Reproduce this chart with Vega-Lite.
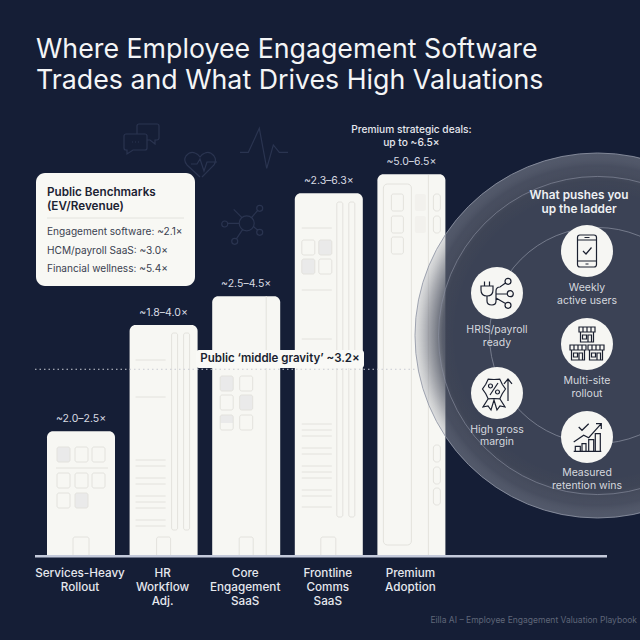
{
"$schema":"https://vega.github.io/schema/vega-lite/v6.json",
"width":640,"height":640,"padding":0,"autosize":{"type":"none"},
"background":"#151e36",
"config":{"view":{"stroke":null},"axis":{"disable":true},"legend":{"disable":true},"font":"Inter"},
"resolve":{"scale":{"shape":"independent"}},
"datasets":{
"bars":[
{"segment":"Services-Heavy Rollout","slot":1,"low":2.0,"high":2.5,"level":2.15,"range":"~2.0–2.5×","label":"Services-Heavy\nRollout"},
{"segment":"HR Workflow Adj.","slot":2,"low":1.8,"high":4.0,"level":4.0,"range":"~1.8–4.0×","label":"HR\nWorkflow\nAdj."},
{"segment":"Core Engagement SaaS","slot":3,"low":2.5,"high":4.5,"level":4.5,"range":"~2.5–4.5×","label":"Core\nEngagement\nSaaS"},
{"segment":"Frontline Comms SaaS","slot":4,"low":2.3,"high":6.3,"level":6.29,"range":"~2.3–6.3×","label":"Frontline\nComms\nSaaS"},
{"segment":"Premium Adoption","slot":5,"low":5.0,"high":6.5,"level":6.62,"range":"~5.0–6.5×","label":"Premium\nAdoption"}
],
"drivers":[
{"driver":"Weekly\nactive users","icon":"phone","x":7.1259,"y":5.287,"labelY":4.643},
{"driver":"HRIS/payroll\nready","icon":"plug","x":6.0363,"y":4.5565,"labelY":3.905},
{"driver":"Multi-site\nrollout","icon":"stores","x":7.1259,"y":3.6696,"labelY":3.026},
{"driver":"High gross\nmargin","icon":"badge","x":6.0363,"y":2.8174,"labelY":2.174},
{"driver":"Measured\nretention wins","icon":"chart","x":7.1259,"y":2.0522,"labelY":1.426}
],
"rings":[{"ring":"outer","x":7.253,"y":3.8175}]
},
"layer":[
{"data":{"values":[
{"icon":"chat","x":1.7386,"y":7.2349},
{"icon":"heart","x":2.4407,"y":6.7827},
{"icon":"pulse","x":3.2157,"y":7.0784},
{"icon":"network","x":3.0062,"y":5.7684}]},
"mark":{"type":"point","filled":false,"size":4,"opacity":1,"stroke":"#2a3450","strokeWidth":1.2},
"encoding":{
"x":{"field":"x","type":"quantitative","scale":{"domain":[0.01937,7.76755],"nice":false,"zero":false,"padding":0}},
"y":{"field":"y","type":"quantitative","scale":{"domain":[-1.47826,9.65217],"nice":false,"zero":false,"padding":0}},
"shape":{"field":"icon","type":"nominal","scale":{"domain":["chat","heart","pulse","network"],"range":[
"M-15 -5H3a2 2 0 0 1 2 2V9a2 2 0 0 1 -2 2H-9L-15 15V11H-16a2 2 0 0 1 -2 -2V-3a2 2 0 0 1 2 -2ZM-5 -5V-13a2 2 0 0 1 2 -2H15a2 2 0 0 1 2 2V-1a2 2 0 0 1 -2 2H13V5L8 1H5M-10 3H-9M-7 3H-6M-4 3H-3",
"M0 12L-13 0Q-17 -5 -14 -9Q-10 -14 -5 -12Q-2 -11 0 -8Q2 -11 5 -12Q10 -14 14 -9Q17 -5 14 0L2 12M-9 -1H-3L0 -6L4 6L7 -3H17",
"M-24 4.3H-15.7L-12.3 -3L-4.7 -19.7L2.7 20.3L9.3 -3L15.3 4.3H24",
"M7.5 0a7.5 7.5 0 1 1 -15 0a7.5 7.5 0 1 1 15 0ZM5 -6L11 -13M-7.5 0H-19M-4 6L-10 15M6.5 3L11 7M-5 -6L-13 -14M16 -15a3 3 0 1 1 -6 0a3 3 0 1 1 6 0ZM-19 0.7a3 3 0 1 1 -6 0a3 3 0 1 1 6 0ZM-9 18a3 3 0 1 1 -6 0a3 3 0 1 1 6 0ZM16 9a3 3 0 1 1 -6 0a3 3 0 1 1 6 0Z"
]}}}},
{"data":{"name":"bars"},
"mark":{"type":"bar","orient":"vertical","size":68,"fill":"#f7f7f3","cornerRadiusTopLeft":6,"cornerRadiusTopRight":6},
"encoding":{"x":{"field":"slot","type":"quantitative"},"y":{"field":"level","type":"quantitative"},"y2":{"datum":0}}},
{"data":{"values":[{"segment":"Premium Adoption","slot":5}]},
"mark":{"type":"point","filled":true,"size":4,"opacity":1,"fill":"#f2f1ed","stroke":null,"shape":"M5.5 -361h7a2 2 0 0 1 2 2v13a2 2 0 0 1 -2 2h-7a2 2 0 0 1 -2 -2v-13a2 2 0 0 1 2 -2zM5.5 -339h7a2 2 0 0 1 2 2v13a2 2 0 0 1 -2 2h-7a2 2 0 0 1 -2 -2v-13a2 2 0 0 1 2 -2z"},
"encoding":{"x":{"field":"slot","type":"quantitative"},"y":{"datum":0}}},
{"data":{"name":"bars"},
"mark":{"type":"point","filled":true,"size":4,"opacity":1,"fill":"#eaeaea","stroke":null},
"encoding":{"x":{"field":"slot","type":"quantitative"},"y":{"datum":0},
"shape":{"field":"segment","type":"nominal","scale":{"domain":["Services-Heavy Rollout","HR Workflow Adj.","Core Engagement SaaS","Frontline Comms SaaS","Premium Adoption"],"range":[
"M-22 -108h9a2 2 0 0 1 2 2v11a2 2 0 0 1 -2 2h-9a2 2 0 0 1 -2 -2v-11a2 2 0 0 1 2 -2zM-4 -62h9a2 2 0 0 1 2 2v11a2 2 0 0 1 -2 2h-9a2 2 0 0 1 -2 -2v-11a2 2 0 0 1 2 -2z",
"M0 0",
"M-24 -179h9a2 2 0 0 1 2 2v11a2 2 0 0 1 -2 2h-9a2 2 0 0 1 -2 -2v-11a2 2 0 0 1 2 -2zM-4.5 -160h9a2 2 0 0 1 2 2v11a2 2 0 0 1 -2 2h-9a2 2 0 0 1 -2 -2v-11a2 2 0 0 1 2 -2zM-24 -140h9a2 2 0 0 1 2 2v6h-13v-6a2 2 0 0 1 2 -2z",
"M-8 -315h9a2 2 0 0 1 2 2v11a2 2 0 0 1 -2 2h-9a2 2 0 0 1 -2 -2v-11a2 2 0 0 1 2 -2zM-25 -296h9a2 2 0 0 1 2 2v11a2 2 0 0 1 -2 2h-9a2 2 0 0 1 -2 -2v-11a2 2 0 0 1 2 -2z",
"M0 0"
]}}}},
{"data":{"name":"bars"},
"mark":{"type":"point","filled":false,"size":4,"opacity":1,"stroke":"#e3e2dd","strokeWidth":1},
"encoding":{"x":{"field":"slot","type":"quantitative"},"y":{"datum":0},
"shape":{"field":"label","type":"nominal","scale":{"domain":["Services-Heavy\nRollout","HR\nWorkflow\nAdj.","Core\nEngagement\nSaaS","Frontline\nComms\nSaaS","Premium\nAdoption"],"range":[
"M-22 -108h9a2 2 0 0 1 2 2v11a2 2 0 0 1 -2 2h-9a2 2 0 0 1 -2 -2v-11a2 2 0 0 1 2 -2zM-4 -108h9a2 2 0 0 1 2 2v11a2 2 0 0 1 -2 2h-9a2 2 0 0 1 -2 -2v-11a2 2 0 0 1 2 -2zM13 -108h9a2 2 0 0 1 2 2v11a2 2 0 0 1 -2 2h-9a2 2 0 0 1 -2 -2v-11a2 2 0 0 1 2 -2zM-22 -82h9a2 2 0 0 1 2 2v11a2 2 0 0 1 -2 2h-9a2 2 0 0 1 -2 -2v-11a2 2 0 0 1 2 -2zM-4 -82h9a2 2 0 0 1 2 2v11a2 2 0 0 1 -2 2h-9a2 2 0 0 1 -2 -2v-11a2 2 0 0 1 2 -2zM13 -82h9a2 2 0 0 1 2 2v11a2 2 0 0 1 -2 2h-9a2 2 0 0 1 -2 -2v-11a2 2 0 0 1 2 -2zM-22 -62h9a2 2 0 0 1 2 2v11a2 2 0 0 1 -2 2h-9a2 2 0 0 1 -2 -2v-11a2 2 0 0 1 2 -2zM-4 -62h9a2 2 0 0 1 2 2v11a2 2 0 0 1 -2 2h-9a2 2 0 0 1 -2 -2v-11a2 2 0 0 1 2 -2zM-25 -87H27M-8 0V-16a2 2 0 0 1 2 -2h12a2 2 0 0 1 2 2V0",
"M10 -222h2a2 2 0 0 1 2 2v193a2 2 0 0 1 -2 2h-2a2 2 0 0 1 -2 -2v-193a2 2 0 0 1 2 -2zM22 -222h2a2 2 0 0 1 2 2v193a2 2 0 0 1 -2 2h-2a2 2 0 0 1 -2 -2v-193a2 2 0 0 1 2 -2zM-28 -195H2M-28 -158H2M-28 -95H2M-28 -89H2M-28 -77H2M-28 -71H2M-28 -59H2M-28 -53H2M-28 -47H2M-28 -35H2M-28 -29H2M-7 0V-16a2 2 0 0 1 2 -2h10a2 2 0 0 1 2 2V0",
"M20 -259V0M-24 -179h9a2 2 0 0 1 2 2v11a2 2 0 0 1 -2 2h-9a2 2 0 0 1 -2 -2v-11a2 2 0 0 1 2 -2zM-4.5 -179h9a2 2 0 0 1 2 2v11a2 2 0 0 1 -2 2h-9a2 2 0 0 1 -2 -2v-11a2 2 0 0 1 2 -2zM-24 -160h9a2 2 0 0 1 2 2v11a2 2 0 0 1 -2 2h-9a2 2 0 0 1 -2 -2v-11a2 2 0 0 1 2 -2zM-4.5 -160h9a2 2 0 0 1 2 2v11a2 2 0 0 1 -2 2h-9a2 2 0 0 1 -2 -2v-11a2 2 0 0 1 2 -2zM-24 -140h9a2 2 0 0 1 2 2v11a2 2 0 0 1 -2 2h-9a2 2 0 0 1 -2 -2v-11a2 2 0 0 1 2 -2zM-4.5 -140h9a2 2 0 0 1 2 2v11a2 2 0 0 1 -2 2h-9a2 2 0 0 1 -2 -2v-11a2 2 0 0 1 2 -2zM-7 0V-16a2 2 0 0 1 2 -2h10a2 2 0 0 1 2 2V0",
"M10 -353h2a2 2 0 0 1 2 2v311a2 2 0 0 1 -2 2h-2a2 2 0 0 1 -2 -2v-311a2 2 0 0 1 2 -2zM22 -353h2a2 2 0 0 1 2 2v311a2 2 0 0 1 -2 2h-2a2 2 0 0 1 -2 -2v-311a2 2 0 0 1 2 -2zM-25 -315h9a2 2 0 0 1 2 2v11a2 2 0 0 1 -2 2h-9a2 2 0 0 1 -2 -2v-11a2 2 0 0 1 2 -2zM-8 -315h9a2 2 0 0 1 2 2v11a2 2 0 0 1 -2 2h-9a2 2 0 0 1 -2 -2v-11a2 2 0 0 1 2 -2zM-25 -296h9a2 2 0 0 1 2 2v11a2 2 0 0 1 -2 2h-9a2 2 0 0 1 -2 -2v-11a2 2 0 0 1 2 -2zM-8 -296h9a2 2 0 0 1 2 2v11a2 2 0 0 1 -2 2h-9a2 2 0 0 1 -2 -2v-11a2 2 0 0 1 2 -2zM-27 -327H3M-27 -265H3M-27 -216H3M-27 -131H3M-27 -125H3M-27 -119H3M-27 -107H3M-27 -101H3M-27 -89H3M-27 -83H3M-27 -77H3M-27 -65H3M-27 -59H3M-27 -48H3M-8 0V-16a2 2 0 0 1 2 -2h11a2 2 0 0 1 2 2V0",
"M17 -380V0M-24 -371h20a4 4 0 0 1 4 4v353a4 4 0 0 1 -4 4h-20a4 4 0 0 1 -4 -4v-353a4 4 0 0 1 4 -4zM-18 -361h8a2 2 0 0 1 2 2v13a2 2 0 0 1 -2 2h-8a2 2 0 0 1 -2 -2v-13a2 2 0 0 1 2 -2zM-18 -339h8a2 2 0 0 1 2 2v13a2 2 0 0 1 -2 2h-8a2 2 0 0 1 -2 -2v-13a2 2 0 0 1 2 -2zM-18 -318h8a2 2 0 0 1 2 2v13a2 2 0 0 1 -2 2h-8a2 2 0 0 1 -2 -2v-13a2 2 0 0 1 2 -2zM25 -361h1a3 3 0 0 1 3 3v11a3 3 0 0 1 -3 3h-1a3 3 0 0 1 -3 -3v-11a3 3 0 0 1 3 -3zM25 -339h1a3 3 0 0 1 3 3v11a3 3 0 0 1 -3 3h-1a3 3 0 0 1 -3 -3v-11a3 3 0 0 1 3 -3zM25 -110h1a3 3 0 0 1 3 3v11a3 3 0 0 1 -3 3h-1a3 3 0 0 1 -3 -3v-11a3 3 0 0 1 3 -3zM25 -88h1a3 3 0 0 1 3 3v11a3 3 0 0 1 -3 3h-1a3 3 0 0 1 -3 -3v-11a3 3 0 0 1 3 -3zM25 -67h1a3 3 0 0 1 3 3v11a3 3 0 0 1 -3 3h-1a3 3 0 0 1 -3 -3v-11a3 3 0 0 1 3 -3z"
]}}}},
{"data":{"values":[{"name":"Axis baseline","value":-0.02}]},
"mark":{"type":"rule","stroke":"#c4cadb","strokeWidth":2.5},
"encoding":{"x":{"datum":0.4431},"x2":{"datum":7.3681},"y":{"field":"value","type":"quantitative"}}},
{"data":{"values":[{"name":"Public middle gravity","value":3.23}]},
"mark":{"type":"rule","stroke":"#c9ccd4","strokeWidth":1,"strokeDash":[1.5,3]},
"encoding":{"x":{"datum":0.4431},"x2":{"datum":5.0436},"y":{"field":"value","type":"quantitative"}}},
{"data":{"values":[{"a":2.3923,"b":4.4263,"c":3.5655,"d":3.2524}]},
"mark":{"type":"rect","fill":"#f9f9f6","cornerRadius":3},
"encoding":{"x":{"field":"a","type":"quantitative"},"x2":{"field":"b"},"y":{"field":"c","type":"quantitative"},"y2":{"field":"d"}}},
{"data":{"values":[{"t":"Public ‘middle gravity’ ~3.2×","x":3.4094,"y":3.409}]},
"mark":{"type":"text","font":"Inter","fontSize":11.5,"fontWeight":600,"fill":"#191f30","align":"center","baseline":"middle"},
"encoding":{"x":{"field":"x","type":"quantitative"},"y":{"field":"y","type":"quantitative"},"text":{"field":"t"}}},
{"data":{"values":[{"a":0.4552,"b":2.3802,"c":6.6436,"d":4.6784}]},
"mark":{"type":"rect","fill":"#f8f8f4","cornerRadius":9},
"encoding":{"x":{"field":"a","type":"quantitative"},"x2":{"field":"b"},"y":{"field":"c","type":"quantitative"},"y2":{"field":"d"}}},
{"data":{"values":[{"y":5.861}]},
"mark":{"type":"rule","stroke":"#e3e3de","strokeWidth":1},
"encoding":{"x":{"datum":0.5884},"x2":{"datum":2.247},"y":{"field":"y","type":"quantitative"}}},
{"data":{"values":[{"t":"Public Benchmarks\n(EV/Revenue)","x":0.5884,"y":6.313}]},
"mark":{"type":"text","font":"Inter","fontSize":11.7,"fontWeight":600,"fill":"#1b2232","align":"left","baseline":"middle","lineBreak":"\n","lineHeight":14},
"encoding":{"x":{"field":"x","type":"quantitative"},"y":{"field":"y","type":"quantitative"},"text":{"field":"t"}}},
{"data":{"values":[
{"t":"Engagement software: ~2.1×","x":0.5884,"y":5.617},
{"t":"HCM/payroll SaaS: ~3.0×","x":0.5884,"y":5.295},
{"t":"Financial wellness: ~5.4×","x":0.5884,"y":4.974}]},
"mark":{"type":"text","font":"Inter","fontSize":10.1,"fill":"#3a4150","align":"left","baseline":"middle"},
"encoding":{"x":{"field":"x","type":"quantitative"},"y":{"field":"y","type":"quantitative"},"text":{"field":"t"}}},
{"data":{"name":"bars"},
"mark":{"type":"text","font":"Inter","fontSize":10.5,"fill":"#d9dce3","align":"center","baseline":"middle","dy":-12},
"encoding":{"x":{"field":"slot","type":"quantitative"},"y":{"field":"level","type":"quantitative"},"text":{"field":"range"}}},
{"data":{"name":"bars"},
"mark":{"type":"text","font":"Inter","fontSize":11.7,"fontWeight":500,"fill":"#e6e8ee","align":"center","baseline":"top","lineBreak":"\n","lineHeight":14,"dy":13,"dx":-1},
"encoding":{"x":{"field":"slot","type":"quantitative"},"y":{"datum":0},"text":{"field":"label"}}},
{"data":{"values":[{"t":"Premium strategic deals:\nup to ~6.5×","x":5,"y":7.391}]},
"mark":{"type":"text","font":"Inter","fontSize":10.2,"fontWeight":500,"fill":"#e6e8ee","align":"center","baseline":"middle","lineBreak":"\n","lineHeight":13},
"encoding":{"x":{"field":"x","type":"quantitative"},"y":{"field":"y","type":"quantitative"},"text":{"field":"t"}}},
{"data":{"name":"rings"},
"mark":{"type":"point","filled":true,"size":133225,"opacity":1,"stroke":"#8f95a5","strokeWidth":1,"strokeOpacity":0.85,
"fill":{"gradient":"radial","x1":0.5,"y1":0.5,"r1":0,"x2":0.5,"y2":0.5,"r2":0.5,"stops":[
{"offset":0,"color":"#3b4255"},{"offset":0.78,"color":"#3b4255"},{"offset":0.85,"color":"rgba(68,74,90,0.88)"},{"offset":0.93,"color":"rgba(108,112,125,0.58)"},{"offset":1,"color":"rgba(180,183,190,0.38)"}]}},
"encoding":{"x":{"field":"x","type":"quantitative"},"y":{"field":"y","type":"quantitative"}}},
{"data":{"name":"rings"},
"mark":{"type":"point","filled":false,"size":101124,"opacity":1,"stroke":"#8d93a3","strokeOpacity":0.6,"strokeWidth":1},
"encoding":{"x":{"field":"x","type":"quantitative"},"y":{"field":"y","type":"quantitative"}}},
{"data":{"name":"rings"},
"mark":{"type":"point","filled":false,"size":46656,"opacity":1,"stroke":"#8d93a3","strokeOpacity":0.7,"strokeWidth":1},
"encoding":{"x":{"field":"x","type":"quantitative"},"y":{"field":"y","type":"quantitative"}}},
{"data":{"values":[{"t":"What pushes you\nup the ladder","x":7.029,"y":6.261}]},
"mark":{"type":"text","font":"Inter","fontSize":11.8,"fontWeight":600,"fill":"#eef0f3","align":"center","baseline":"middle","lineBreak":"\n","lineHeight":14},
"encoding":{"x":{"field":"x","type":"quantitative"},"y":{"field":"y","type":"quantitative"},"text":{"field":"t"}}},
{"data":{"name":"drivers"},
"mark":{"type":"point","filled":true,"size":2704,"opacity":1,"fill":"#f6f6f3","stroke":null},
"encoding":{"x":{"field":"x","type":"quantitative"},"y":{"field":"y","type":"quantitative"}}},
{"data":{"name":"drivers"},
"mark":{"type":"point","filled":false,"size":4,"opacity":1,"stroke":"#1b2030","strokeWidth":1.2},
"encoding":{"x":{"field":"x","type":"quantitative"},"y":{"field":"y","type":"quantitative"},
"shape":{"field":"driver","type":"nominal","scale":{"domain":["Weekly\nactive users","HRIS/payroll\nready","Multi-site\nrollout","High gross\nmargin","Measured\nretention wins"],"range":[
"M-7 -16h14a2.5 2.5 0 0 1 2.5 2.5v27a2.5 2.5 0 0 1 -2.5 2.5h-14a2.5 2.5 0 0 1 -2.5 -2.5v-27a2.5 2.5 0 0 1 2.5 -2.5zM-9.5 -11H9.5M-9.5 10H9.5M-2.5 -13.5H2.5M-1.5 13H1.5M-4 0L-1 3L4.5 -3.5",
"M-12.5 -11.5V-7M-7.5 -11.5V-7M-16 -7H-4V-3Q-4 3 -10 3Q-16 3 -16 -3ZM-10 3V8Q-10 12 -5 12Q-1 12 -1 8V-2Q-1 -6 3 -6L8.5 -10M-1 1H10M-1 5L8.5 10.5M14 -11.7a3 3 0 1 0 -6 0a3 3 0 1 0 6 0M16.3 0.7a3 3 0 1 0 -6 0a3 3 0 1 0 6 0M14 12.3a3 3 0 1 0 -6 0a3 3 0 1 0 6 0",
"M-8 -17H8V-12H-8ZM-4 -17V-12M0 -17V-12M4 -17V-12M-6.5 -12V-2H6.5V-12M1 -2V-9H4.5V-2M-4.5 -9H-0.5V-5H-4.5ZM-17 1H-1V6H-17ZM-13 1V6M-9 1V6M-5 1V6M-15.5 6V16H-2.5V6M-8 16V9H-4.5V16M-13.5 9H-9.5V13H-13.5ZM1 1H17V6H1ZM5 1V6M9 1V6M13 1V6M2.5 6V16H15.5V6M10 16V9H13.5V16M4.5 9H8.5V13H4.5Z",
"M8.5 -4L5.23 0.75L2.75 5.96L-3 5.5L-8.75 5.96L-11.23 0.75L-14.5 -4L-11.23 -8.75L-8.75 -13.96L-3 -13.5L2.75 -13.96L5.23 -8.75ZM1 -10L-7 2M-4.5 -7a2 2 0 1 0 -4 0a2 2 0 1 0 4 0M2.5 -1a2 2 0 1 0 -4 0a2 2 0 1 0 4 0M11 8V-14M7 -9L11 -14L15 -9M-9 6L-14 14L-9 13L-6 17L-3 7L0 17L3 13L8 14L3 6",
"M-13.3 14.3H14.3M-11.7 14.3V9.3H-6.7V14.3M-5 14.3V6.7H-1V14.3M1.7 14.3V2.7H6.7V14.3M8.3 14.3V-3.3H13.3V14.3M-13.3 5L-3.3 -1.7L1.7 0.7L14.3 -13.3M9 -13.3H14.3V-8M-8.3 -10L-5 -6.7L1.7 -13.3"
]}}}},
{"data":{"name":"drivers"},
"mark":{"type":"text","font":"Inter","fontSize":10.5,"fill":"#d5d8df","align":"center","baseline":"middle","lineBreak":"\n","lineHeight":12.5},
"encoding":{"x":{"field":"x","type":"quantitative"},"y":{"field":"labelY","type":"quantitative"},"text":{"field":"driver"}}},
{"data":{"values":[{"t":"Where Employee Engagement Software\nTrades and What Drives High Valuations","x":0.4552,"y":8.775}]},
"mark":{"type":"text","font":"Inter","fontSize":26.75,"fontWeight":400,"fill":"#f4f5f6","align":"left","baseline":"middle","lineBreak":"\n","lineHeight":31},
"encoding":{"x":{"field":"x","type":"quantitative"},"y":{"field":"y","type":"quantitative"},"text":{"field":"t"}}},
{"data":{"values":[{"t":"Eilla AI – Employee Engagement Valuation Playbook","x":7.7313,"y":-1.1302}]},
"mark":{"type":"text","font":"Inter","fontSize":8.5,"fill":"#5f6678","align":"right","baseline":"middle"},
"encoding":{"x":{"field":"x","type":"quantitative"},"y":{"field":"y","type":"quantitative"},"text":{"field":"t"}}}
]
}
